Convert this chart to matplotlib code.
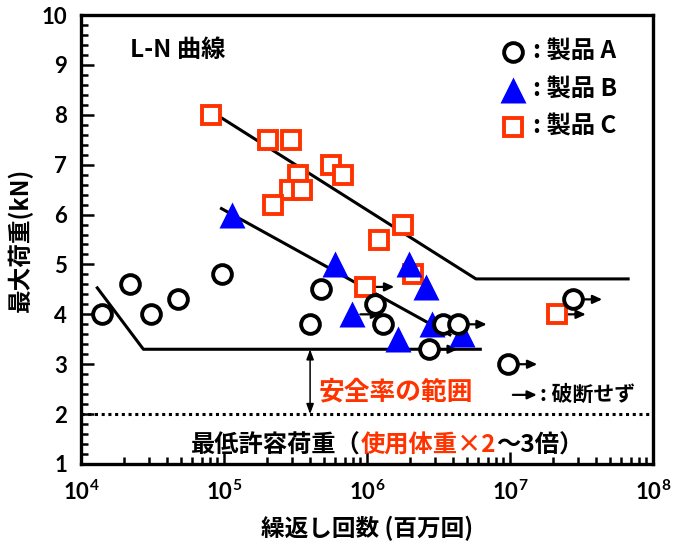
import matplotlib
matplotlib.use("Agg")
import matplotlib.pyplot as plt
from matplotlib.ticker import LogLocator, MultipleLocator, LogFormatterSciNotation, NullFormatter
from matplotlib.transforms import offset_copy

plt.rcParams['font.family'] = ['Noto Sans CJK JP', 'DejaVu Sans']
plt.rcParams['mathtext.fontset'] = 'custom'
plt.rcParams['mathtext.rm'] = 'Lato:bold'
plt.rcParams['mathtext.bf'] = 'Lato:bold'

# ---- data ----
a_cycles = [1.4e4, 2.2e4, 3.1e4, 4.8e4, 9.7e4, 4.0e5, 4.8e5, 1.14e6, 1.29e6, 2.7e6, 3.4e6, 4.3e6, 9.7e6, 2.76e7]
a_load = [4.0, 4.6, 4.0, 4.3, 4.8, 3.8, 4.5, 4.2, 3.8, 3.3, 3.8, 3.8, 3.0, 4.3]
a_runout = [False, False, False, False, False, False, False, False, False, True, False, True, True, True]

b_cycles = [1.14e5, 6.0e5, 7.85e5, 1.65e6, 1.97e6, 2.6e6, 2.85e6, 4.6e6]
b_load = [6.0, 5.0, 4.0, 3.5, 5.0, 4.55, 3.8, 3.6]
b_runout = [False, False, True, False, False, False, False, False]

c_cycles = [8.1e4, 2.04e5, 2.93e5, 3.3e5, 2.9e5, 3.5e5, 2.19e5, 5.57e5, 6.8e5, 9.7e5, 1.21e6, 1.78e6, 2.1e6, 2.12e7]
c_load = [8.0, 7.5, 7.5, 6.8, 6.5, 6.5, 6.2, 7.0, 6.8, 4.55, 5.5, 5.8, 4.8, 4.0]
c_runout = [False, False, False, False, False, False, False, False, False, True, False, False, False, True]

# L-N curves
a_curve_x = [1.3e4, 2.73e4, 6.2e6]
a_curve_y = [4.53, 3.3, 3.3]
b_curve_x = [9.6e4, 3.8e6]
b_curve_y = [6.12, 3.59]
c_curve_x = [9.7e4, 5.78e6, 6.7e7]
c_curve_y = [7.93, 4.71, 4.71]

min_allowable = 2.0
safety_x = 4.0e5

RED = '#FF3300'
BLUE = '#0000FF'

fig = plt.figure(figsize=(6.8, 5.45), dpi=100)
ax = fig.add_axes([81 / 680, 1 - 464 / 545, 572 / 680, 449 / 545])

ax.set_xscale('log')
ax.set_xlim(1e4, 1e8)
ax.set_ylim(1, 10)

lw_curve = 2.2
ax.plot(a_curve_x, a_curve_y, color='black', lw=lw_curve, zorder=2)
ax.plot(b_curve_x, b_curve_y, color='black', lw=lw_curve, zorder=2)
ax.plot(c_curve_x, c_curve_y, color='black', lw=lw_curve, zorder=2)

ax.axhline(min_allowable, color='black', lw=2.2, ls=(0, (1, 1.2)), zorder=2)


def runout_arrows(xs, ys, flags):
    start = offset_copy(ax.transData, fig=fig, x=6, y=0, units='points')
    tip = offset_copy(ax.transData, fig=fig, x=21, y=0, units='points')
    for x, y, f in zip(xs, ys, flags):
        if f:
            ax.annotate('', xy=(x, y), xycoords=tip, xytext=(x, y), textcoords=start,
                        arrowprops=dict(arrowstyle='-|>,head_length=0.55,head_width=0.25',
                                        color='black', lw=1.6, shrinkA=0, shrinkB=0),
                        zorder=3)


runout_arrows(a_cycles, a_load, a_runout)
runout_arrows(b_cycles, b_load, b_runout)
runout_arrows(c_cycles, c_load, c_runout)

ms_o = 13.5
ax.plot(c_cycles, c_load, ls='none', marker='s', ms=ms_o, mfc='white', mec=RED, mew=2.8, zorder=4)
ax.plot(b_cycles, b_load, ls='none', marker='^', ms=19, mfc=BLUE, mec='none', zorder=5)
ax.plot(a_cycles, a_load, ls='none', marker='o', ms=ms_o, mfc='white', mec='black', mew=2.8, zorder=6)

# safety factor range
ax.annotate('', xy=(safety_x, min_allowable), xytext=(safety_x, a_curve_y[-1]),
            arrowprops=dict(arrowstyle='<|-|>,head_length=0.6,head_width=0.22', color='black',
                            lw=1.1, shrinkA=0, shrinkB=0), zorder=3)
ax.text(0.416, 0.160, '安全率の範囲', transform=ax.transAxes, color=RED, fontsize=18.5,
        fontweight='bold', ha='left', va='center')

# run-out note
ax.annotate('', xy=(0.797, 0.154), xycoords='axes fraction', xytext=(0.755, 0.154),
            textcoords='axes fraction',
            arrowprops=dict(arrowstyle='-|>,head_length=0.55,head_width=0.25', color='black',
                            lw=1.6, shrinkA=0, shrinkB=0))
ax.text(0.803, 0.154, ': 破断せず', transform=ax.transAxes, fontsize=15,
        fontweight='bold', ha='left', va='center')

# minimum allowable load caption
cap_size = 17.5
t1 = ax.text(0.192, 0.042, '最低許容荷重（', transform=ax.transAxes, fontsize=cap_size,
             fontweight='bold', ha='left', va='center')
t2 = ax.annotate('使用体重×2', xy=(1, 0.5), xycoords=t1, fontsize=cap_size, fontweight='bold',
                 color=RED, ha='left', va='center')
ax.annotate('～3倍）', xy=(1, 0.5), xycoords=t2, fontsize=cap_size, fontweight='bold',
            color='black', ha='left', va='center')

# title
ax.text(0.086, 0.922, 'L-N 曲線', transform=ax.transAxes, fontsize=17.5, fontweight='bold',
        ha='left', va='center')

# legend
leg_x = 0.755
leg_rows = [0.918, 0.834, 0.751]
ax.plot([leg_x], [leg_rows[0]], transform=ax.transAxes, marker='o', ms=ms_o, mfc='white',
        mec='black', mew=2.8, clip_on=False)
ax.plot([leg_x], [leg_rows[1]], transform=ax.transAxes, marker='^', ms=19, mfc=BLUE,
        mec='none', clip_on=False)
ax.plot([leg_x], [leg_rows[2]], transform=ax.transAxes, marker='s', ms=ms_o, mfc='white',
        mec=RED, mew=2.8, clip_on=False)
for y, lab in zip(leg_rows, [': 製品 A', ': 製品 B', ': 製品 C']):
    ax.text(0.791, y, lab, transform=ax.transAxes, fontsize=17.5, fontweight='bold',
            ha='left', va='center')

# axes styling
for s in ax.spines.values():
    s.set_linewidth(2.4)
ax.xaxis.set_major_locator(LogLocator(base=10, numticks=10))
ax.xaxis.set_minor_locator(LogLocator(base=10, subs=range(2, 10), numticks=20))
ax.xaxis.set_major_formatter(LogFormatterSciNotation())
ax.xaxis.set_minor_formatter(NullFormatter())
ax.yaxis.set_major_locator(MultipleLocator(1))
ax.yaxis.set_minor_locator(MultipleLocator(0.2))
ax.tick_params(which='both', direction='in', top=False, right=False, width=1.8)
ax.tick_params(which='major', length=9)
ax.tick_params(which='minor', length=5)
ax.tick_params(axis='y', which='major', pad=10)
ax.tick_params(axis='x', which='major', pad=11)
for lab in ax.get_xticklabels() + ax.get_yticklabels():
    lab.set_fontfamily('Lato')
    lab.set_fontweight('bold')
    lab.set_fontsize(16)

ax.set_xlabel('繰返し回数 (百万回)', fontsize=17, fontweight='bold', labelpad=9)
ax.set_ylabel('最大荷重(kN)', fontsize=17, fontweight='bold', labelpad=6)

fig.savefig('out.png', dpi=100)
